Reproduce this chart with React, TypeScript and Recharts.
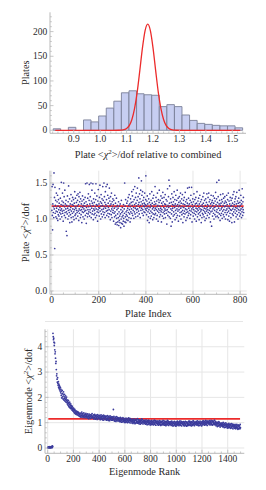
import React from 'react'
import { ComposedChart, Bar, Line, Scatter, XAxis, YAxis, CartesianGrid, Label } from 'recharts'

// --- top panel: histogram of plate <chi2>/dof relative to combined ---
const binCenters = [
  0.8364, 0.8651, 0.8938, 0.9225, 0.9512, 0.9799, 1.0086, 1.0373, 1.066, 1.0947, 1.1234, 1.1521, 1.1808,
  1.2095, 1.2382, 1.2669, 1.2956, 1.3243, 1.353, 1.3817, 1.4104, 1.4391, 1.4678, 1.4965, 1.5252,
]
const binCounts = [3, 0, 6, 0, 21, 17, 29, 45, 59, 76, 80, 74, 72, 71, 48, 52, 48, 31, 20, 14, 12, 10, 9, 9, 5]
// red curve
const fitX = [
  0.83, 0.95, 1.05, 1.07, 1.08, 1.09, 1.1, 1.11, 1.12, 1.13, 1.14, 1.15, 1.16, 1.17, 1.18, 1.19, 1.2, 1.21, 1.22,
  1.23, 1.24, 1.25, 1.26, 1.27, 1.28, 1.29, 1.31, 1.42, 1.53,
]
const fitY = [
  0, 0, 0, 0.1, 0.4, 1.2, 3.6, 9.4, 22, 44, 77, 121, 167, 202, 215, 202, 167, 121, 77, 44, 22, 9.4, 3.6, 1.2, 0.4,
  0.1, 0, 0, 0,
]
const histXTicks = [0.9, 1.0, 1.1, 1.2, 1.3, 1.4, 1.5]
const histYTicks = [0, 50, 100, 150, 200]

// --- middle panel: <chi2>/dof per plate ---
const plateChi2 = [
  1.12, 1.45, 1.05, 0.85, 1.21, 1.48, 1.09, 1.17, 1.02, 1.64, 1.14, 1.30, 0.59, 1.44, 1.08, 1.19, 1.26, 1.03, 1.11, 1.36,
  1.15, 1.01, 1.24, 1.10, 1.33, 0.98, 1.18, 1.06, 1.27, 1.13, 1.04, 1.22, 1.42, 1.09, 1.16, 1.00, 1.29, 1.12, 1.07, 1.20,
  1.51, 1.14, 1.03, 1.25, 1.11, 1.36, 1.08, 1.19, 0.97, 1.23, 1.50, 1.12, 1.31, 1.05, 1.17, 1.40, 1.09, 1.21, 1.02, 1.14,
  1.26, 0.83, 1.10, 1.19, 0.77, 1.07, 1.32, 1.15, 1.00, 1.24, 1.12, 1.46, 1.04, 1.18, 1.09, 1.28, 0.95, 1.13, 1.21, 1.06,
  1.16, 1.34, 1.02, 1.11, 1.25, 0.96, 1.20, 1.08, 1.30, 1.14, 1.03, 1.19, 1.27, 1.10, 0.99, 1.22, 1.13, 1.38, 1.05, 1.17,
  1.29, 1.07, 1.15, 1.01, 1.23, 1.12, 1.33, 1.09, 1.18, 1.26, 1.04, 1.35, 1.11, 1.20, 0.98, 1.31, 1.14, 1.08, 1.24, 1.37,
  1.12, 1.02, 1.28, 1.17, 1.06, 1.21, 1.13, 0.95, 1.25, 1.10, 1.32, 1.16, 1.03, 1.19, 1.09, 1.27, 1.14, 1.00, 1.22, 1.11,
  1.18, 1.30, 1.05, 1.49, 1.12, 1.24, 0.94, 1.16, 1.08, 1.50, 1.20, 1.03, 1.29, 1.13, 1.07, 1.35, 1.17, 1.10, 1.26, 1.48,
  1.04, 1.21, 1.13, 1.31, 1.09, 1.18, 1.50, 1.02, 1.25, 1.15, 1.40, 1.07, 1.22, 1.11, 1.49, 1.19, 0.99, 1.28, 1.14, 1.06,
  1.23, 1.12, 1.36, 1.08, 1.17, 1.02, 1.27, 1.49, 1.14, 1.20, 1.05, 1.32, 1.10, 1.19, 0.97, 1.25, 1.13, 1.41, 1.09, 1.16,
  1.21, 1.04, 1.30, 1.15, 1.47, 1.11, 1.24, 1.00, 1.18, 1.34, 1.07, 1.22, 1.13, 1.28, 1.03, 1.19, 1.45, 1.10, 1.26, 1.14,
  1.06, 1.50, 1.17, 1.31, 1.09, 1.23, 1.02, 1.38, 1.15, 1.20, 1.45, 1.11, 1.27, 1.05, 1.18, 1.48, 1.12, 1.33, 1.08, 1.22,
  1.16, 1.03, 1.29, 1.13, 1.43, 1.07, 1.25, 1.19, 0.99, 1.31, 1.11, 1.21, 1.06, 1.36, 1.14, 1.02, 1.24, 1.17, 1.09, 1.28,
  1.12, 1.20, 0.97, 1.26, 1.08, 1.15, 1.03, 1.33, 1.10, 0.93, 1.22, 1.05, 1.17, 0.95, 1.29, 1.01, 1.13, 0.92, 1.19, 1.07,
  0.96, 1.15, 1.02, 1.24, 0.91, 1.10, 0.98, 1.18, 1.04, 0.95, 1.21, 1.07, 0.88, 1.13, 1.00, 1.26, 0.94, 1.09, 1.03, 1.16,
  0.93, 1.11, 1.05, 0.97, 1.20, 1.01, 0.90, 1.14, 1.08, 1.50, 0.96, 1.18, 1.03, 1.27, 0.95, 1.10, 1.06, 0.99, 1.22, 1.12,
  1.04, 1.25, 1.15, 0.98, 1.30, 1.09, 1.19, 1.02, 1.34, 1.13, 1.07, 1.21, 0.96, 1.17, 1.28, 1.10, 1.01, 1.23, 1.14, 1.38,
  1.08, 1.19, 1.32, 1.05, 1.24, 1.12, 1.41, 1.16, 1.01, 1.27, 1.10, 1.20, 1.45, 1.07, 1.15, 1.30, 1.03, 1.22, 1.36, 1.13,
  1.18, 1.09, 1.26, 1.43, 1.14, 1.04, 1.31, 1.20, 1.11, 1.57, 1.23, 1.07, 1.35, 1.16, 1.28, 1.02, 1.19, 1.40, 1.12, 1.24,
  1.53, 1.15, 1.33, 1.08, 1.21, 1.38, 1.13, 1.26, 1.05, 1.18, 1.30, 1.10, 1.22, 1.17, 1.36, 1.09, 1.20, 1.14, 1.27, 1.60,
  1.19, 1.12, 1.06, 1.25, 1.15, 1.32, 0.98, 1.21, 1.10, 1.17, 1.03, 1.28, 1.13, 0.95, 1.23, 1.08, 1.35, 1.16, 1.01, 1.20,
  1.11, 1.26, 1.04, 1.18, 1.38, 1.09, 1.22, 1.14, 0.99, 1.29, 1.07, 1.16, 1.33, 1.02, 1.20, 1.12, 1.24, 1.06, 1.45, 1.15,
  1.08, 1.21, 1.30, 1.13, 1.00, 1.25, 1.17, 1.05, 1.36, 1.11, 1.19, 0.97, 1.27, 1.14, 1.09, 1.23, 1.40, 1.03, 1.18, 1.12,
  1.26, 1.06, 1.15, 1.32, 1.10, 0.96, 1.22, 1.13, 1.29, 1.04, 1.19, 1.37, 1.09, 1.24, 1.01, 1.16, 1.30, 1.11, 1.07, 1.21,
  1.14, 1.34, 1.02, 1.20, 1.12, 1.27, 1.08, 1.17, 0.93, 1.25, 1.13, 1.42, 1.05, 1.19, 1.10, 1.31, 1.16, 1.54, 1.03, 1.22,
  1.46, 1.09, 1.18, 1.01, 1.28, 1.14, 0.90, 1.23, 1.07, 1.35, 1.12, 0.96, 1.20, 1.15, 1.30, 1.04, 1.24, 1.10, 1.19, 1.38,
  1.06, 1.16, 1.27, 0.99, 1.21, 1.12, 1.33, 1.08, 1.18, 1.02, 1.26, 1.14, 1.40, 1.05, 1.20, 1.11, 1.29, 0.97, 1.17, 1.23,
  1.13, 1.31, 1.04, 1.19, 1.09, 1.25, 1.36, 1.15, 1.00, 1.22, 1.10, 1.28, 1.06, 1.17, 1.34, 1.12, 0.95, 1.21, 1.08, 1.26,
  1.16, 1.03, 1.30, 1.11, 1.20, 1.07, 1.37, 1.14, 1.24, 0.98, 1.18, 1.09, 1.27, 1.13, 1.02, 1.22, 1.43, 1.10, 1.19, 1.05,
  1.29, 1.15, 1.08, 1.44, 1.21, 1.12, 1.01, 1.26, 1.17, 1.06, 1.33, 1.11, 1.23, 1.44, 1.14, 0.96, 1.20, 1.09, 1.28, 1.16,
  1.04, 1.24, 1.13, 1.35, 1.08, 1.18, 1.00, 1.27, 1.11, 1.21, 1.06, 1.30, 1.15, 0.97, 1.22, 1.10, 1.38, 1.14, 1.03, 1.19,
  1.25, 1.12, 1.07, 1.29, 1.16, 0.99, 1.21, 1.09, 1.33, 1.14, 1.05, 1.24, 1.11, 1.18, 0.95, 1.27, 1.13, 1.02, 1.20, 1.08,
  1.17, 1.31, 1.06, 1.22, 1.12, 1.36, 1.03, 1.15, 1.26, 1.10, 0.98, 1.19, 1.08, 1.28, 1.14, 1.01, 1.23, 1.11, 1.35, 1.16,
  1.05, 1.20, 1.13, 1.30, 1.09, 1.18, 1.36, 1.02, 1.24, 1.12, 1.07, 1.27, 1.15, 0.96, 1.21, 1.10, 1.33, 1.17, 0.90, 1.23,
  1.11, 1.26, 1.04, 1.19, 1.14, 1.32, 1.08, 1.22, 1.00, 1.16, 1.29, 1.12, 1.06, 1.25, 1.17, 1.37, 1.03, 1.20, 1.10, 1.28,
  1.51, 1.13, 1.04, 1.23, 1.18, 1.09, 1.31, 1.02, 1.15, 1.54, 1.21, 1.07, 1.26, 1.12, 0.98, 1.19, 1.34, 1.05, 1.22, 1.14,
  1.08, 1.27, 1.16, 1.01, 1.24, 1.11, 1.35, 1.19, 1.06, 1.29, 1.13, 1.03, 1.22, 1.17, 1.31, 1.09, 1.25, 1.00, 1.18, 1.12,
  1.23, 1.06, 1.33, 1.14, 1.20, 1.09, 1.27, 0.99, 1.17, 1.36, 1.11, 1.04, 1.25, 1.15, 0.97, 1.21, 1.08, 1.30, 1.13, 1.18,
  1.02, 1.26, 1.12, 1.19, 0.95, 1.29, 1.07, 1.22, 1.14, 1.34, 1.05, 1.17, 1.10, 1.38, 1.20, 0.96, 1.24, 1.13, 1.28, 1.08,
  1.16, 1.31, 1.03, 1.21, 1.11, 1.37, 1.15, 1.06, 1.25, 1.18, 1.00, 1.22, 1.13, 1.29, 1.09, 1.40, 1.17, 1.04, 1.23, 1.12,
  1.19, 1.07, 1.33, 1.14, 1.26, 1.02, 1.21, 1.10, 1.42, 1.16, 1.05, 1.24, 1.13, 1.30, 1.09,
]
const plateLevel = 1.18
const plateXTicks = [0, 200, 400, 600, 800]
const plateYTicks = [0, 0.5, 1.0, 1.5]

// --- bottom panel: <chi2>/dof per eigenmode, every second rank ---
const EIGEN_RANK_STEP = 2
const eigenChi2 = [
  0.02, 0.01, 0.03, 0.02, 0.04, 0.01, 0.02, 0.03, 0.05, 0.02, 0.01, 0.03, 0.02, 0.04, 0.02, 0.06, 0.03, 0.02, 0.08, 0.05, 4.53, 4.40, 4.28, 4.34, 4.18,
  4.05, 4.15, 3.88, 3.72, 3.80, 3.55, 3.34, 3.42, 3.10, 2.85, 2.93, 2.72, 2.60, 2.78, 2.55, 2.48, 2.62, 2.40, 2.52, 2.35, 2.46, 2.30, 2.41, 2.25, 2.38,
  2.18, 2.32, 2.08, 2.25, 1.98, 2.14, 2.28, 2.02, 2.16, 1.94, 2.10, 2.22, 1.90, 2.04, 1.96, 2.12, 1.86, 2.00, 1.92, 2.06, 1.82, 1.95, 1.88, 2.01, 1.80,
  1.90, 1.74, 1.84, 1.70, 1.79, 1.88, 1.66, 1.76, 1.62, 1.72, 1.81, 1.60, 1.69, 1.57, 1.74, 1.63, 1.55, 1.67, 1.59, 1.50, 1.64, 1.54, 1.47, 1.58, 1.51,
  1.45, 1.56, 1.41, 1.49, 1.38, 1.52, 1.43, 1.35, 1.47, 1.40, 1.33, 1.46, 1.37, 1.42, 1.31, 1.39, 1.44, 1.34, 1.29, 1.41, 1.36, 1.27, 1.38, 1.32, 1.25,
  1.33, 1.24, 1.38, 1.27, 1.21, 1.35, 1.29, 1.42, 1.23, 1.31, 1.26, 1.36, 1.20, 1.30, 1.25, 1.39, 1.28, 1.22, 1.34, 1.27, 1.19, 1.32, 1.25, 1.37, 1.24,
  1.29, 1.22, 1.33, 1.18, 1.26, 1.35, 1.21, 1.30, 1.24, 1.16, 1.28, 1.34, 1.20, 1.27, 1.23, 1.31, 1.17, 1.25, 1.32, 1.19, 1.28, 1.22, 1.36, 1.24, 1.20,
  1.26, 1.18, 1.31, 1.22, 1.15, 1.28, 1.21, 1.33, 1.19, 1.25, 1.14, 1.29, 1.23, 1.17, 1.30, 1.20, 1.26, 1.13, 1.24, 1.32, 1.18, 1.27, 1.21, 1.16, 1.28,
  1.23, 1.16, 1.29, 1.20, 1.12, 1.26, 1.19, 1.31, 1.15, 1.24, 1.21, 1.13, 1.28, 1.17, 1.25, 1.10, 1.22, 1.30, 1.16, 1.23, 1.18, 1.27, 1.12, 1.21, 1.25,
  1.20, 1.13, 1.26, 1.17, 1.10, 1.23, 1.16, 1.28, 1.12, 1.21, 1.18, 1.09, 1.25, 1.14, 1.22, 1.08, 1.19, 1.27, 1.13, 1.20, 1.15, 1.24, 1.10, 1.18, 1.22,
  1.17, 1.10, 1.23, 1.14, 1.20, 1.52, 1.12, 1.25, 1.08, 1.18, 1.15, 1.06, 1.22, 1.11, 1.19, 1.05, 1.16, 1.24, 1.10, 1.17, 1.13, 1.21, 1.07, 1.15, 1.19,
  1.14, 1.07, 1.19, 1.10, 1.16, 1.04, 1.12, 1.21, 1.06, 1.15, 1.09, 1.02, 1.18, 1.11, 1.14, 1.03, 1.13, 1.20, 1.08, 1.12, 1.05, 1.17, 1.10, 1.01, 1.15,
  1.06, 1.15, 1.01, 1.10, 1.18, 1.05, 1.12, 1.03, 1.14, 1.08, 1.00, 1.16, 1.11, 1.04, 1.19, 1.07, 1.02, 1.13, 1.09, 1.17, 0.99, 1.10, 1.15, 1.06, 1.12,
  1.11, 1.05, 0.99, 1.14, 1.03, 1.08, 0.97, 1.12, 1.07, 1.01, 1.15, 1.04, 1.00, 1.09, 0.96, 1.13, 1.10, 0.98, 1.08, 1.02, 1.12, 1.05, 0.99, 1.16, 1.03,
  0.98, 1.07, 1.13, 1.02, 0.96, 1.09, 1.05, 1.00, 1.11, 0.94, 1.06, 1.10, 1.01, 0.97, 1.08, 1.15, 0.99, 1.04, 1.12, 1.03, 0.95, 1.07, 1.02, 1.09, 1.00,
  1.04, 0.97, 1.09, 1.00, 1.06, 0.94, 1.02, 1.11, 0.96, 1.05, 0.99, 0.92, 1.08, 1.01, 1.04, 0.93, 1.03, 1.10, 0.98, 1.02, 0.95, 1.07, 1.00, 0.91, 1.05,
  0.97, 1.06, 0.92, 1.01, 1.09, 0.96, 1.03, 0.94, 1.05, 0.99, 0.91, 1.07, 1.02, 0.95, 1.10, 0.98, 0.93, 1.04, 1.00, 1.08, 0.90, 1.01, 1.06, 0.97, 1.03,
  1.04, 0.98, 0.92, 1.07, 0.96, 1.01, 0.90, 1.05, 1.00, 0.94, 1.08, 0.97, 0.93, 1.02, 0.89, 1.06, 1.03, 0.91, 1.01, 0.95, 1.05, 0.98, 0.92, 1.09, 0.96,
  0.92, 1.01, 1.07, 0.96, 0.90, 1.03, 0.99, 0.94, 1.05, 0.88, 1.00, 1.04, 0.95, 0.91, 1.02, 1.09, 0.93, 0.98, 1.06, 0.97, 0.89, 1.01, 0.96, 1.03, 0.94,
  0.99, 0.92, 1.04, 0.95, 1.01, 0.89, 0.97, 1.06, 0.91, 1.00, 0.94, 0.87, 1.03, 0.96, 0.99, 0.88, 0.98, 1.05, 0.93, 0.97, 0.90, 1.02, 0.95, 0.86, 1.00,
  0.94, 1.03, 0.89, 0.98, 1.06, 0.93, 1.00, 0.91, 1.02, 0.96, 0.88, 1.04, 0.99, 0.92, 1.07, 0.95, 0.90, 1.01, 0.97, 1.05, 0.87, 0.98, 1.03, 0.94, 1.00,
  1.01, 0.95, 0.89, 1.04, 0.93, 0.98, 0.87, 1.02, 0.97, 0.91, 1.05, 0.94, 0.90, 0.99, 0.86, 1.03, 1.00, 0.88, 0.98, 0.92, 1.02, 0.95, 0.89, 1.06, 0.93,
  0.91, 1.00, 1.06, 0.95, 0.89, 1.02, 0.98, 0.93, 1.04, 0.87, 0.99, 1.03, 0.94, 0.90, 1.01, 1.08, 0.92, 0.97, 1.05, 0.96, 0.88, 1.00, 0.95, 1.02, 0.93,
  1.00, 0.93, 1.05, 0.96, 1.02, 0.90, 0.98, 1.07, 0.92, 1.01, 0.95, 0.88, 1.04, 0.97, 1.00, 0.89, 0.99, 1.06, 0.94, 0.98, 0.91, 1.03, 0.96, 0.87, 1.01,
  0.96, 1.05, 0.91, 1.00, 1.08, 0.95, 1.02, 0.93, 1.04, 0.98, 0.90, 1.06, 1.01, 0.94, 1.09, 0.97, 0.92, 1.03, 0.99, 1.07, 0.89, 1.00, 1.05, 0.96, 1.02,
  1.05, 0.99, 0.93, 1.08, 0.97, 1.02, 0.91, 1.06, 1.01, 0.95, 1.09, 0.98, 0.94, 1.03, 0.90, 1.07, 1.04, 0.92, 1.02, 0.96, 1.06, 0.99, 0.93, 1.10, 0.97,
  0.92, 1.00, 1.05, 0.94, 0.88, 1.00, 0.96, 0.91, 1.02, 0.85, 0.96, 1.00, 0.91, 0.87, 0.98, 1.04, 0.88, 0.93, 1.00, 0.91, 0.83, 0.96, 0.91, 0.97, 0.88,
  0.94, 0.87, 0.99, 0.90, 0.96, 0.84, 0.92, 1.01, 0.85, 0.94, 0.88, 0.81, 0.97, 0.90, 0.93, 0.82, 0.92, 0.99, 0.87, 0.91, 0.84, 0.95, 0.88, 0.79, 0.92,
  0.85, 0.94, 0.80, 0.89, 0.97, 0.84, 0.91, 0.82, 0.93, 0.87, 0.78, 0.94, 0.89, 0.82, 0.96, 0.84, 0.79, 0.90, 0.86, 0.94, 0.76, 0.87, 0.92, 0.83, 0.89,
  0.90, 0.84, 0.78, 0.93, 0.82, 0.87, 0.76, 0.91, 0.86, 0.80, 0.93, 0.82, 0.78, 0.87, 0.74, 0.91, 0.88, 0.76, 0.86, 0.80, 0.89, 0.82, 0.76, 0.93, 0.80,
]
const eigenLevel = 1.15
const eigenXTicks = [0, 200, 400, 600, 800, 1000, 1200, 1400]
const eigenYTicks = [0, 1, 2, 3, 4]

const FONT = '"Liberation Serif", "DejaVu Serif", serif'
const FRAME = '#b9b9b9'
const GRID = '#e6e6e6'
const INK = '#2a2a2a'
const POINT = '#3b3b9c'
const RED = '#ec2b2b'

const histData = binCenters.map((x, i) => ({ x, y: binCounts[i] }))
const fitData = fitX.map((x, i) => ({ x, y: fitY[i] }))
const plateData = plateChi2.map((y, i) => ({ x: i + 1, y }))
const plateLine = [{ x: 0, y: plateLevel }, { x: plateChi2.length, y: plateLevel }]
const eigenData = eigenChi2.map((y, i) => ({ x: i * EIGEN_RANK_STEP + 1, y }))
const eigenLine = [{ x: 5, y: eigenLevel }, { x: eigenChi2.length * EIGEN_RANK_STEP - 4, y: eigenLevel }]

// major ticks plus unlabeled minor ticks in between
const withMinors = (lo: number, hi: number, step: number) => {
  const out: number[] = []
  for (let v = Math.ceil(lo / step) * step; v <= hi + 1e-9; v += step) out.push(Math.round(v * 1e6) / 1e6)
  return out
}

type Side = 'bottom' | 'top' | 'left' | 'right'

const axisTick = (side: Side, majors: number[], digits = 0) => (p: any) => {
  const { x, y } = p
  const v = Number(p.payload.value)
  const major = majors.some((m) => Math.abs(m - v) < 1e-6)
  const len = major ? 3.5 : 1.8
  const dx = side === 'left' ? len : side === 'right' ? -len : 0
  const dy = side === 'bottom' ? -len : side === 'top' ? len : 0
  return (
    <g>
      <line x1={x} y1={y} x2={x + dx} y2={y + dy} stroke={FRAME} strokeWidth={0.8} />
      {major && side === 'bottom' && (
        <text x={x} y={y + 8.2} textAnchor="middle" fontSize={9.5} fontFamily={FONT} fill={INK}>
          {v.toFixed(digits)}
        </text>
      )}
      {major && side === 'left' && (
        <text x={x - 2.8} y={y + 3.2} textAnchor="end" fontSize={9.5} fontFamily={FONT} fill={INK}>
          {v.toFixed(digits)}
        </text>
      )}
    </g>
  )
}

const Chi2 = () => (
  <>
    {'<'}
    <tspan fontStyle="italic">χ</tspan>
    <tspan dy={-4} fontSize={7}>2</tspan>
    <tspan dy={4}>{'>/dof'}</tspan>
  </>
)

const xTitle = (body: React.ReactNode, dy: number) => (p: any) => {
  const vb = p.viewBox
  return (
    <text x={vb.x + vb.width / 2} y={vb.y + dy} textAnchor="middle" fontSize={10.3} fontFamily={FONT} fill={INK}>
      {body}
    </text>
  )
}

const yTitle = (body: React.ReactNode, baseX: number) => (p: any) => {
  const vb = p.viewBox
  const cy = vb.y + vb.height / 2
  return (
    <text transform={`translate(${baseX}, ${cy}) rotate(-90)`} textAnchor="middle" fontSize={10.3} fontFamily={FONT} fill={INK}>
      {body}
    </text>
  )
}

const dot = (r: number) => (p: any) => <circle cx={p.cx} cy={p.cy} r={r} fill={POINT} />

export default function App() {
  const h1x: [number, number] = [0.81, 1.552]
  const h1y: [number, number] = [-6.1, 239.1]
  const h1xt = withMinors(0.82, 1.55, 0.02)
  const h1yt = withMinors(0, 230, 10)

  const p2x: [number, number] = [-7, 828]
  const p2y: [number, number] = [-0.046, 1.671]
  const p2xt = withMinors(0, 820, 50)
  const p2yt = withMinors(0, 1.65, 0.1)

  const p3x: [number, number] = [-21, 1529]
  const p3y: [number, number] = [-0.21, 4.69]
  const p3xt = withMinors(0, 1520, 50)
  const p3yt = withMinors(0, 4.6, 0.2)

  const common = { type: 'number' as const, allowDataOverflow: true, interval: 0 as const, tickSize: 0, tickMargin: 0, axisLine: { stroke: FRAME } }

  return (
    <div style={{ position: 'absolute', left: 0, top: 0, width: 266, height: 490, background: '#fff', fontFamily: FONT }}>
      <div style={{ position: 'absolute', left: 0, top: 0 }}>
        <ComposedChart width={266} height={160} data={histData} margin={{ top: 12.3, right: 20, bottom: 0, left: 0 }}>
          <XAxis {...common} dataKey="x" domain={h1x} ticks={h1xt} height={26.7} tick={axisTick('bottom', histXTicks, 1)}>
            <Label content={xTitle(<>Plate <Chi2 /> relative to combined</>, 24.4)} />
          </XAxis>
          <XAxis {...common} xAxisId="top" orientation="top" dataKey="x" domain={h1x} ticks={h1xt} height={0} tick={axisTick('top', histXTicks)} />
          <YAxis {...common} domain={h1y} ticks={h1yt} width={50} tick={axisTick('left', histYTicks)}>
            <Label content={yTitle('Plates', 28.5)} />
          </YAxis>
          <YAxis {...common} yAxisId="right" orientation="right" domain={h1y} ticks={h1yt} width={0} tick={axisTick('right', histYTicks)} />
          <Bar dataKey="y" fill="#c7cef1" stroke="#7b8099" strokeWidth={0.9} barSize={7.5} isAnimationActive={false} />
          <Line xAxisId="top" data={fitData} dataKey="y" type="monotone" stroke={RED} strokeWidth={1.3} dot={false} activeDot={false} isAnimationActive={false} />
        </ComposedChart>
      </div>

      <div style={{ position: 'absolute', left: 0, top: 160 }}>
        <ComposedChart width={266} height={162} margin={{ top: 10.7, right: 19.3, bottom: 0, left: 0 }}>
          <CartesianGrid stroke={GRID} verticalValues={plateXTicks} horizontalValues={plateYTicks} />
          <XAxis {...common} dataKey="x" domain={p2x} ticks={p2xt} height={27.7} tick={axisTick('bottom', plateXTicks)}>
            <Label content={xTitle('Plate Index', 22.5)} />
          </XAxis>
          <XAxis {...common} xAxisId="top" orientation="top" dataKey="x" domain={p2x} ticks={p2xt} height={0} tick={axisTick('top', plateXTicks)} />
          <YAxis {...common} dataKey="y" domain={p2y} ticks={p2yt} width={50} tick={axisTick('left', plateYTicks, 1)}>
            <Label content={yTitle(<>Plate <Chi2 /></>, 28.5)} />
          </YAxis>
          <YAxis {...common} yAxisId="right" orientation="right" domain={p2y} ticks={p2yt} width={0} tick={axisTick('right', plateYTicks)} />
          <Scatter data={plateData} dataKey="y" shape={dot(0.85)} isAnimationActive={false} />
          <Line data={plateLine} dataKey="y" stroke={RED} strokeWidth={1.8} dot={false} activeDot={false} isAnimationActive={false} />
        </ComposedChart>
      </div>

      <div style={{ position: 'absolute', left: 45, top: 321.2, width: 198, height: 1, background: '#e6e6e6' }} />

      <div style={{ position: 'absolute', left: 0, top: 322 }}>
        <ComposedChart width={266} height={168} margin={{ top: 7.3, right: 21.7, bottom: 0, left: 0 }}>
          <CartesianGrid stroke={GRID} verticalValues={eigenXTicks} horizontalValues={eigenYTicks} />
          <XAxis {...common} dataKey="x" domain={p3x} ticks={p3xt} height={36.7} tick={axisTick('bottom', eigenXTicks)}>
            <Label content={xTitle('Eigenmode Rank', 21.9)} />
          </XAxis>
          <XAxis {...common} xAxisId="top" orientation="top" dataKey="x" domain={p3x} ticks={p3xt} height={0} tick={axisTick('top', eigenXTicks)} />
          <YAxis {...common} dataKey="y" domain={p3y} ticks={p3yt} width={45} tick={axisTick('left', eigenYTicks)}>
            <Label content={yTitle(<>Eigenmode <Chi2 /></>, 32)} />
          </YAxis>
          <YAxis {...common} yAxisId="right" orientation="right" domain={p3y} ticks={p3yt} width={0} tick={axisTick('right', eigenYTicks)} />
          <Scatter data={eigenData} dataKey="y" shape={dot(0.9)} isAnimationActive={false} />
          <Line data={eigenLine} dataKey="y" stroke={RED} strokeWidth={1.6} dot={false} activeDot={false} isAnimationActive={false} />
        </ComposedChart>
      </div>
    </div>
  )
}
